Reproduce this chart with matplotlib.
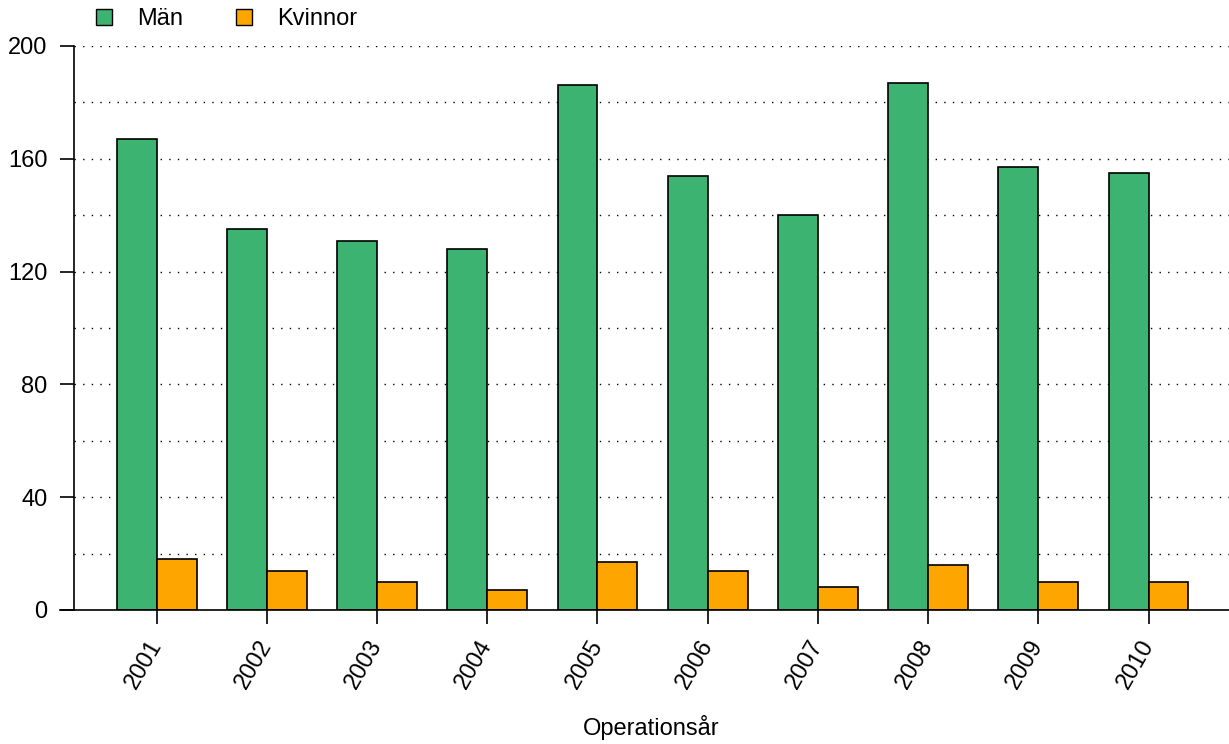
import numpy as np
import matplotlib
matplotlib.use("Agg")
import matplotlib.pyplot as plt
from matplotlib.patches import Patch

# data
years = ['2001', '2002', '2003', '2004', '2005', '2006', '2007', '2008', '2009', '2010']
man = [167, 135, 131, 128, 186, 154, 140, 187, 157, 155]
kvinnor = [18, 14, 10, 7, 17, 14, 8, 16, 10, 10]

green = '#3CB371'
orange = '#FFA500'

plt.rcParams['font.family'] = ['Liberation Sans', 'DejaVu Sans']
plt.rcParams['font.size'] = 17

fig = plt.figure(figsize=(12.29, 7.44), dpi=100)
ax = fig.add_axes([74 / 1229, 134 / 744, 1155 / 1229, 564 / 744])

x = np.arange(len(years))
w = 0.362
ax.bar(x - w / 2, man, width=w, color=green, edgecolor='black', linewidth=1.2, zorder=3)
ax.bar(x + w / 2, kvinnor, width=w, color=orange, edgecolor='black', linewidth=1.2, zorder=3)

ax.set_xlim(-0.75, 9.73)
ax.set_ylim(0, 200)

# dotted grid every 20
for g in range(20, 201, 20):
    ax.axhline(g, color='black', linestyle=(0, (1, 5.2)), linewidth=1, zorder=1)
# baseline at 0, starting at the tick end
ax.axhline(0, xmin=-0.0121, xmax=1, color='black', linewidth=1.2, clip_on=False, zorder=4)

for s in ['top', 'right', 'bottom']:
    ax.spines[s].set_visible(False)
ax.spines['left'].set_linewidth(1.2)

ax.set_yticks(range(0, 201, 40))
ax.tick_params(axis='y', length=10, width=1.2, pad=9, labelsize=17)
ax.set_xticks(x)
ax.set_xticklabels(years, rotation=60, ha='right', va='center', rotation_mode='anchor')
ax.tick_params(axis='x', length=10, width=1.2, pad=12.7, labelsize=17)

fig.text(651 / 1229, (744 - 727) / 744, 'Operationsår', ha='center', va='center', fontsize=17)

handles = [Patch(facecolor=green, edgecolor='black', label='Män'),
           Patch(facecolor=orange, edgecolor='black', label='Kvinnor')]
fig.legend(handles=handles, loc='center left', bbox_to_anchor=(96 / 1229, 1 - 19 / 744),
           ncol=2, frameon=False, handlelength=0.67, handleheight=0.67,
           handletextpad=1.06, columnspacing=2.25, fontsize=17, borderpad=0, borderaxespad=0)

fig.savefig('out.png', dpi=100)
